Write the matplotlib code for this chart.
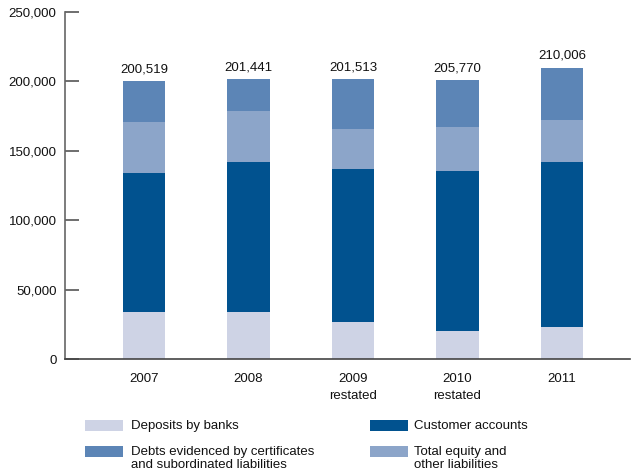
import matplotlib
matplotlib.use("Agg")
import matplotlib.pyplot as plt
from matplotlib.patches import Rectangle

plt.rcParams['font.family'] = ['Liberation Sans', 'DejaVu Sans']

years = ["2007", "2008", "2009\nrestated", "2010\nrestated", "2011"]
totals = ["200,519", "201,441", "201,513", "205,770", "210,006"]
deposits = [33900, 33900, 26700, 20200, 23100]
customer = [100200, 108100, 110300, 115300, 118900]
equity = [36800, 36800, 28800, 31800, 30300]
debts = [29600, 22600, 35600, 33700, 37700]

series = [
    ("Deposits by banks", deposits, "#CED3E5"),
    ("Customer accounts", customer, "#01528F"),
    ("Total equity and\nother liabilities", equity, "#8CA5C9"),
    ("Debts evidenced by certificates\nand subordinated liabilities", debts, "#5C85B6"),
]

fig = plt.figure(figsize=(6.33, 4.74), dpi=100)
ax = fig.add_axes([0.1027, 0.2426, 0.8923, 0.7321])

x = list(range(len(years)))
bottom = [0] * len(years)
for name, vals, col in series:
    ax.bar(x, vals, bottom=bottom, width=0.41, color=col, linewidth=0)
    bottom = [b + v for b, v in zip(bottom, vals)]

for xi, top, lab in zip(x, bottom, totals):
    ax.annotate(lab, (xi, top), xytext=(0, 4), textcoords="offset points",
                ha="center", va="bottom", fontsize=9.5, color="#111111")

ax.set_xlim(-0.756, 4.65)
ax.set_ylim(0, 250000)
ax.set_yticks([0, 50000, 100000, 150000, 200000, 250000])
ax.set_yticklabels(["0", "50,000", "100,000", "150,000", "200,000", "250,000"])
ax.set_xticks(x)
ax.set_xticklabels(years, linespacing=1.55)
ax.tick_params(axis="y", direction="in", length=10, width=1.2, color="#555555",
               labelsize=9.5, pad=6, labelcolor="#111111")
ax.tick_params(axis="x", length=0, pad=10, labelsize=9.5, labelcolor="#111111")
for s in ["top", "right"]:
    ax.spines[s].set_visible(False)
ax.spines["left"].set_color("#666666")
ax.spines["left"].set_linewidth(1.2)
ax.spines["bottom"].set_color("#444444")
ax.spines["bottom"].set_linewidth(1.2)

W, H = 633, 474
# (series index, patch left, patch top, text left, text first-line center)
legend_layout = [
    (0, 85, 420, 131, 426),
    (1, 370, 420, 414, 426),
    (3, 85, 446, 131, 452),
    (2, 370, 446, 414, 452),
]
for idx, px, py, tx, ty in legend_layout:
    name, vals, col = series[idx]
    fig.patches.append(Rectangle((px / W, 1 - (py + 11) / H), 38 / W, 11 / H,
                                 transform=fig.transFigure, color=col, linewidth=0))
    lines = name.split("\n")
    for k, line in enumerate(lines):
        fig.text(tx / W, 1 - (ty + 13.5 * k) / H, line, ha="left", va="center",
                 fontsize=9.5, color="#111111")

fig.savefig("out.png", dpi=100)
